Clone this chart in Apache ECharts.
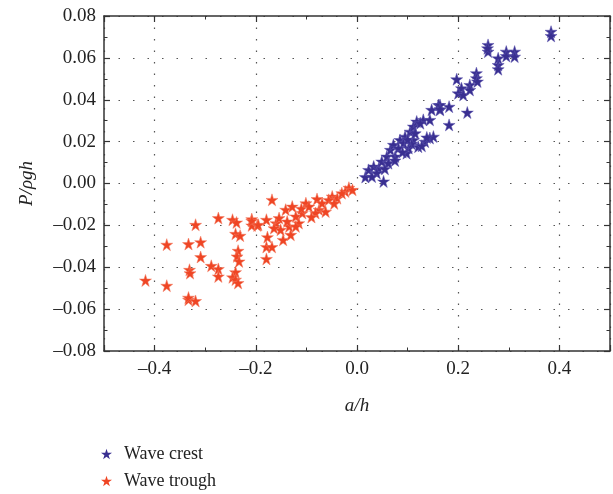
<!DOCTYPE html>
<html><head><meta charset="utf-8">
<script src="https://cdn.jsdelivr.net/npm/echarts@6/dist/echarts.min.js"></script>
<style>html,body{margin:0;padding:0;background:#fff}#c{width:613px;height:494px}</style>
</head><body><div id="c"></div>
<script>
const seriesNames = ['Wave crest', 'Wave trough'];
const xRange = [-0.5, 0.5];
const yTicks = [-0.08, 0.08, 0.02];
const crest = [
[0.0165,0.0031],[0.023,0.0065],[0.0525,0.001],[0.033,0.0081],[0.043,0.0073],[0.049,0.0105],
[0.059,0.0129],[0.066,0.0161],[0.0755,0.0129],[0.072,0.0185],[0.085,0.0208],[0.095,0.0224],
[0.098,0.0145],[0.102,0.0169],[0.105,0.0248],[0.1115,0.0272],[0.118,0.0296],[0.131,0.0304],
[0.144,0.0304],[0.121,0.0176],[0.1345,0.02],[0.144,0.0217],[0.151,0.0224],[0.1475,0.0352],
[0.161,0.0375],[0.164,0.0352],[0.182,0.0367],[0.182,0.028],[0.092,0.0193],[0.082,0.0169],
[0.062,0.0097],[0.039,0.005],[0.0295,0.0033],[0.1115,0.0208],[0.125,0.0288],[0.108,0.019],
[0.3835,0.0725],[0.3835,0.0705],[0.259,0.0662],[0.259,0.063],[0.258,0.0646],[0.279,0.0598],
[0.279,0.0566],[0.279,0.0546],[0.295,0.063],[0.295,0.0609],[0.3115,0.063],[0.3115,0.0606],
[0.236,0.0527],[0.236,0.0503],[0.238,0.0487],[0.197,0.0498],[0.2065,0.0455],[0.2,0.0431],
[0.21,0.0423],[0.223,0.0471],[0.223,0.0447],[0.164,0.0375],[0.164,0.0355],[0.218,0.0339],
[0.09,0.015],[0.075,0.011],[0.055,0.007],[0.1,0.021],[0.115,0.024],[0.138,0.022],[0.128,0.018]
];
const trough = [
[-0.418,-0.0463],[-0.376,-0.0488],[-0.376,-0.0292],[-0.333,-0.0289],[-0.319,-0.0197],[-0.309,-0.028],
[-0.309,-0.0351],[-0.331,-0.0412],[-0.330,-0.0428],[-0.333,-0.0555],[-0.333,-0.0545],[-0.319,-0.0561],
[-0.288,-0.0393],[-0.274,-0.0408],[-0.274,-0.0444],[-0.274,-0.0165],[-0.246,-0.0173],[-0.238,-0.0186],
[-0.240,-0.024],[-0.231,-0.0249],[-0.235,-0.0321],[-0.237,-0.0348],[-0.233,-0.0372],[-0.240,-0.0423],
[-0.246,-0.0448],[-0.240,-0.0459],[-0.235,-0.0475],[-0.208,-0.017],[-0.208,-0.020],[-0.197,-0.020],
[-0.168,-0.0078],[-0.208,-0.0178],[-0.195,-0.0197],[-0.179,-0.0173],[-0.177,-0.0256],[-0.179,-0.0303],
[-0.168,-0.0303],[-0.179,-0.036],[-0.146,-0.0269],[-0.131,-0.0245],[-0.141,-0.0125],[-0.128,-0.011],
[-0.101,-0.0094],[-0.079,-0.0074],[-0.049,-0.0062],[-0.023,-0.0038],[-0.160,-0.0189],[-0.154,-0.0165],
[-0.121,-0.0157],[-0.115,-0.0189],[-0.108,-0.0141],[-0.075,-0.0125],[-0.069,-0.0094],[-0.056,-0.0078],
[-0.062,-0.0134],[-0.039,-0.007],[-0.030,-0.0046],[-0.134,-0.0205],[-0.151,-0.0221],[-0.164,-0.0213],
[-0.121,-0.0205],[-0.095,-0.011],[-0.082,-0.0141],[-0.138,-0.0181],[-0.016,-0.002],[-0.009,-0.003],
[-0.045,-0.0095],[-0.09,-0.016],[-0.11,-0.012]
];
const star = 'path://M50,0 L61.2,34.5 L97.6,34.5 L68.2,55.9 L79.4,90.5 L50,69.1 L20.6,90.5 L31.8,55.9 L2.4,34.5 L38.8,34.5 Z';
const font = 'Liberation Serif';
const dash = s => String(s).replace('-', '\u2013');
const line = {show: true, onZero: false, lineStyle: {color: '#333', width: 1.5}};
const tick = {show: true, inside: true, length: 6, lineStyle: {color: '#333', width: 1.2}};
const minor = {show: true, splitNumber: 2, length: 3.5, lineStyle: {color: '#333', width: 1}};
const chart = echarts.init(document.getElementById('c'));
chart.setOption({
  animation: false,
  grid: {left: 104, right: 1, top: 16, bottom: 143, containLabel: false},
  legend: {
    orient: 'vertical', left: 101, top: 445, padding: 0, itemGap: 9, itemWidth: 11, itemHeight: 11,
    textStyle: {fontFamily: font, fontSize: 18, color: '#222', padding: [0, 0, 0, 7]},
    itemStyle: {borderWidth: 0, opacity: 1},
    data: seriesNames.map(n => ({name: n, icon: star}))
  },
  xAxis: [{
    type: 'value', min: xRange[0], max: xRange[1], splitNumber: 5, position: 'bottom',
    axisLine: line, axisTick: tick, minorTick: minor,
    axisLabel: {fontFamily: font, fontSize: 19, color: '#222', margin: 9,
      formatter: v => Math.abs(v) > 0.45 ? '' : dash(v.toFixed(1))},
    splitLine: {show: true, lineStyle: {color: '#555', type: [1.5, 10], width: 1.2}},
    name: 'a/h', nameLocation: 'middle', nameGap: 45,
    nameTextStyle: {fontFamily: font, fontSize: 19, fontStyle: 'italic', color: '#222'}
  }, {
    type: 'value', min: xRange[0], max: xRange[1], splitNumber: 5, position: 'top',
    axisLine: line, axisTick: tick, minorTick: minor,
    axisLabel: {show: false}, splitLine: {show: false}
  }],
  yAxis: [{
    type: 'value', min: yTicks[0], max: yTicks[1], interval: yTicks[2], position: 'left',
    axisLine: line, axisTick: tick, minorTick: minor,
    axisLabel: {fontFamily: font, fontSize: 19, color: '#222', margin: 8,
      formatter: v => dash(v.toFixed(2))},
    splitLine: {show: true, lineStyle: {color: '#555', type: [1.5, 13], width: 1.2}},
    name: 'P/\u03c1gh', nameLocation: 'middle', nameGap: 68,
    nameTextStyle: {fontFamily: font, fontSize: 19, fontStyle: 'italic', color: '#222'}
  }, {
    type: 'value', min: yTicks[0], max: yTicks[1], interval: yTicks[2], position: 'right',
    axisLine: line, axisTick: tick, minorTick: minor,
    axisLabel: {show: false}, splitLine: {show: false}
  }],
  series: [
    {name: seriesNames[0], type: 'scatter', symbol: star, symbolSize: 12, data: crest,
     itemStyle: {color: '#392f91', opacity: 1, borderColor: '#5a52ac', borderWidth: 0.5}},
    {name: seriesNames[1], type: 'scatter', symbol: star, symbolSize: 12, data: trough,
     itemStyle: {color: '#ef4524', opacity: 1, borderColor: '#f27a60', borderWidth: 0.5}}
  ]
});
</script></body></html>
